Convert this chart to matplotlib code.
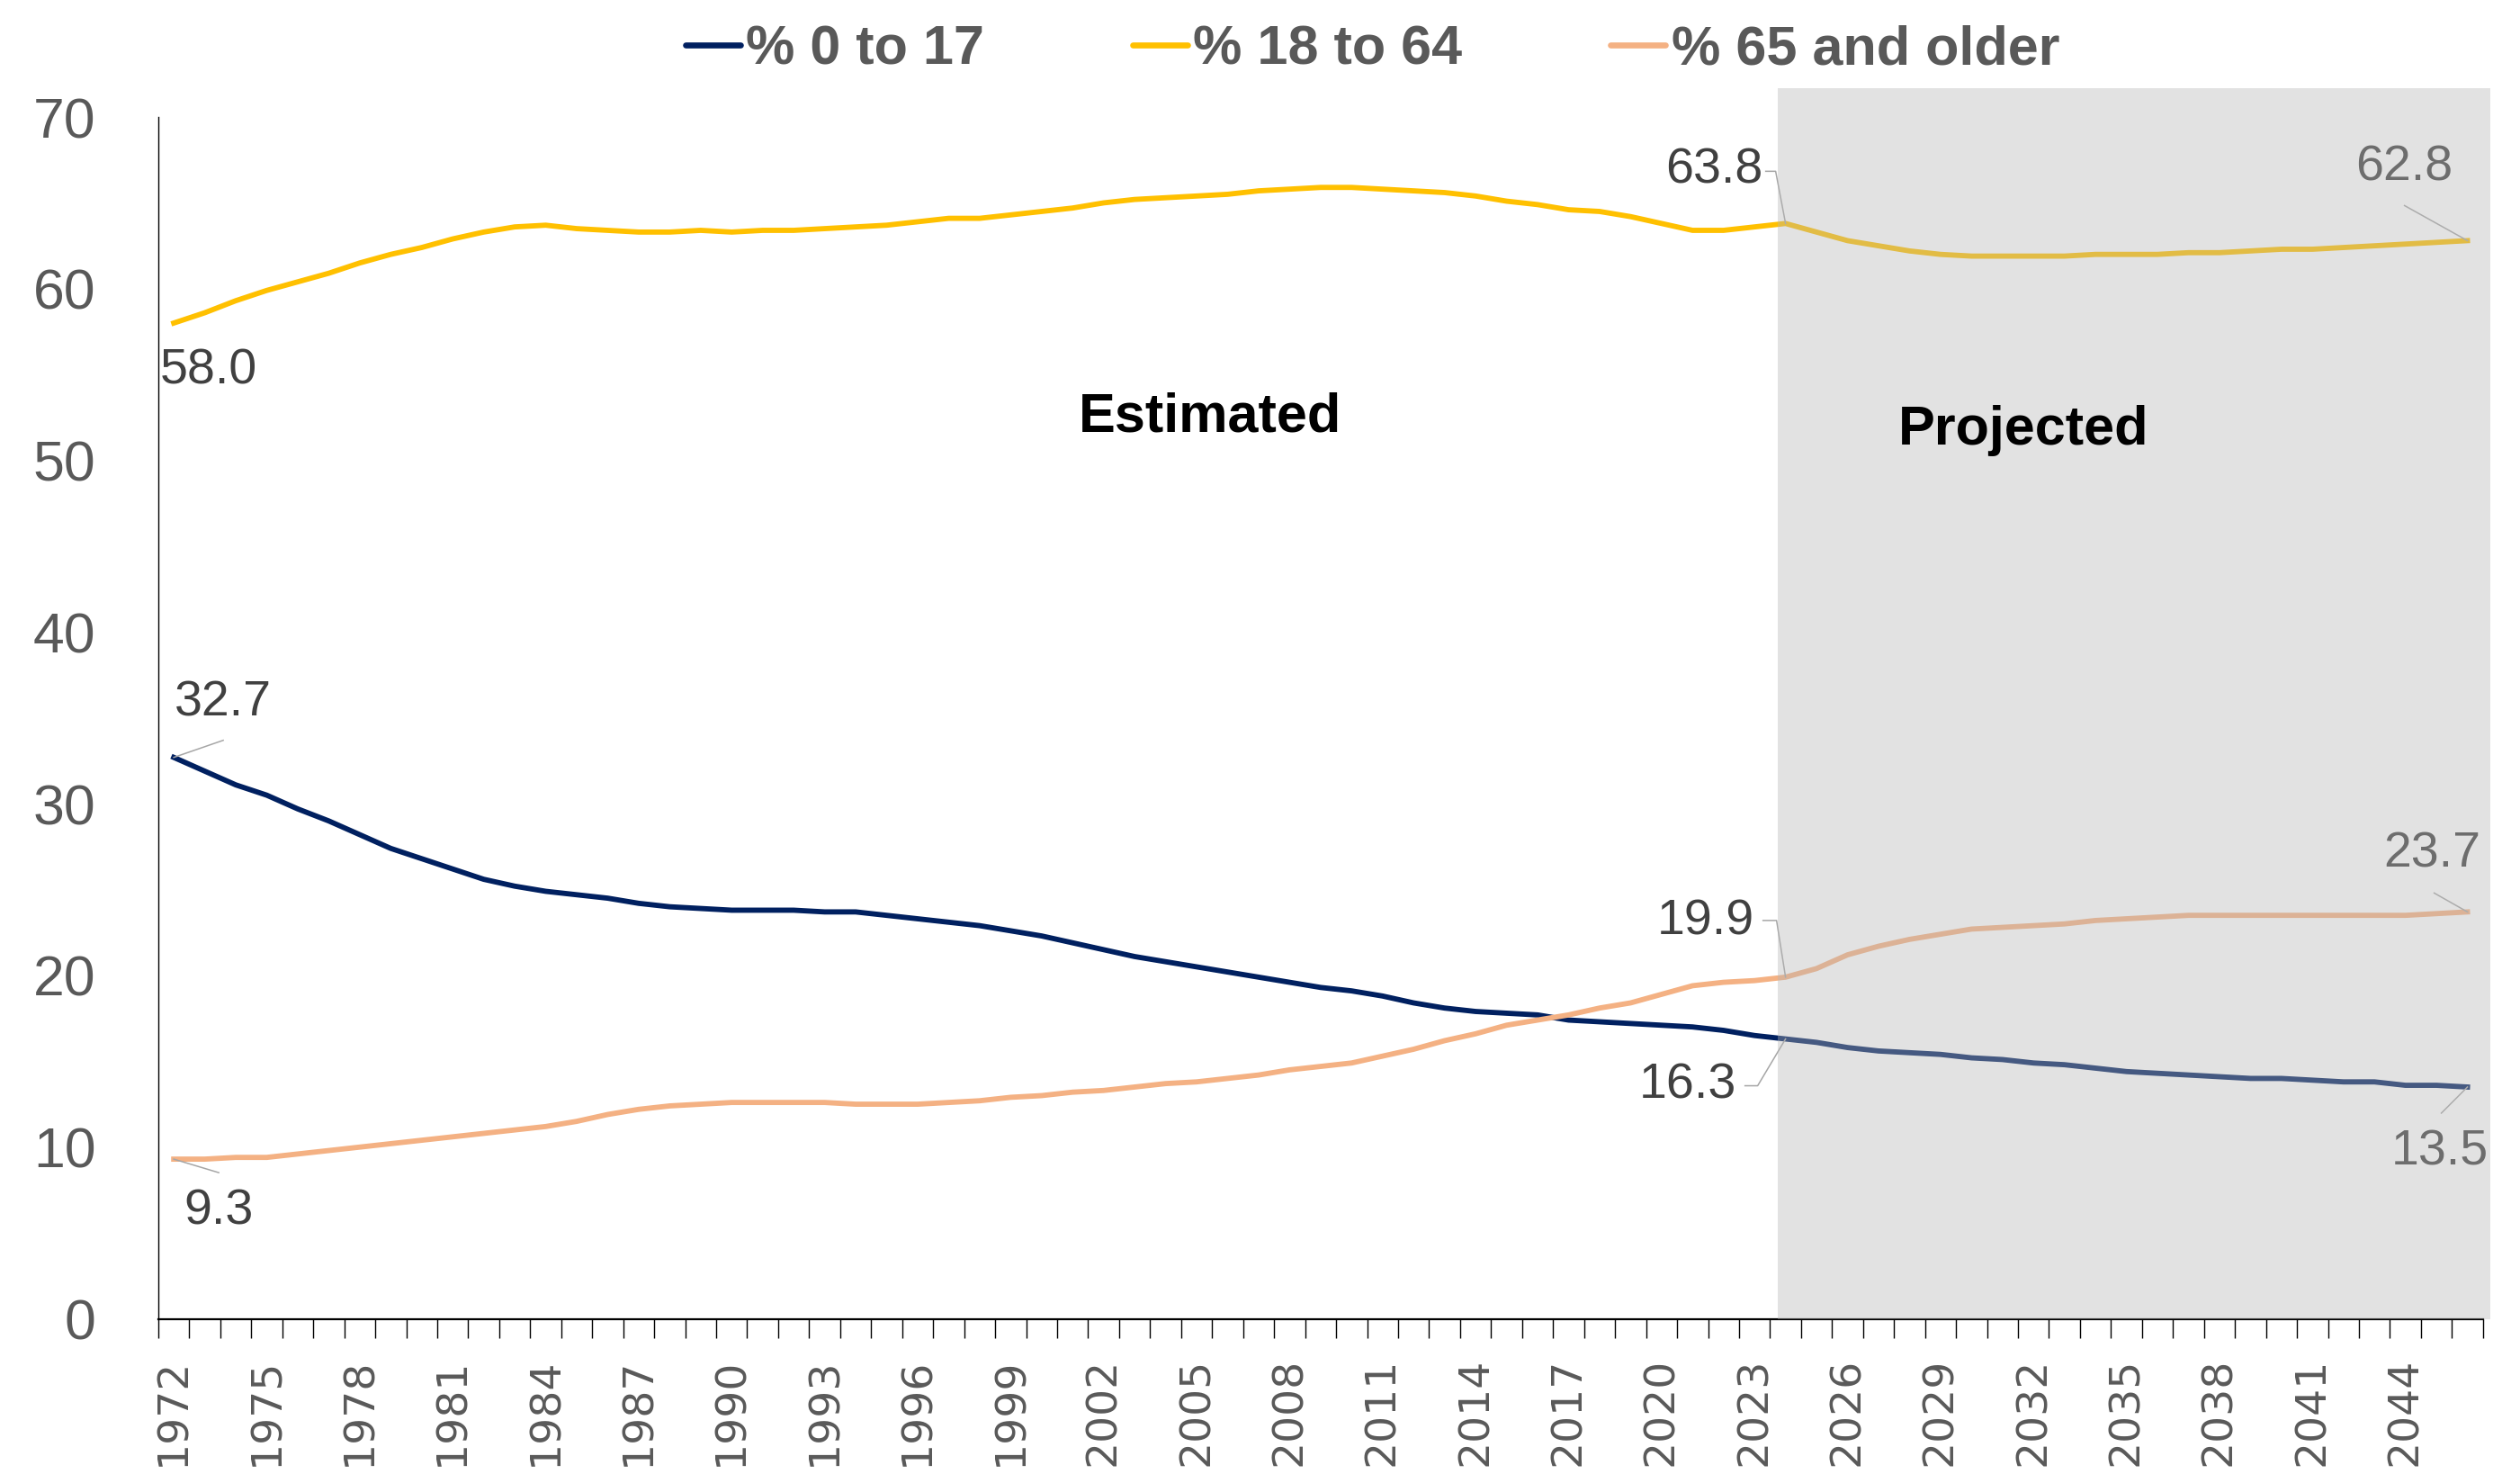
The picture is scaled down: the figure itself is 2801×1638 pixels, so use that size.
import numpy as np
import matplotlib
matplotlib.use("Agg")
import matplotlib.pyplot as plt
from matplotlib.patches import Rectangle
from matplotlib.lines import Line2D

# data
years = list(range(1972, 2047))
kids = [32.7, 31.9, 31.1, 30.5, 29.7, 29.0, 28.2, 27.4, 26.8, 26.2,
        25.6, 25.2, 24.9, 24.7, 24.5, 24.2, 24.0, 23.9, 23.8, 23.8,
        23.8, 23.7, 23.7, 23.5, 23.3, 23.1, 22.9, 22.6, 22.3, 21.9,
        21.5, 21.1, 20.8, 20.5, 20.2, 19.9, 19.6, 19.3, 19.1, 18.8,
        18.4, 18.1, 17.9, 17.8, 17.7, 17.4, 17.3, 17.2, 17.1, 17.0,
        16.8, 16.5, 16.3, 16.1, 15.8, 15.6, 15.5, 15.4, 15.2, 15.1,
        14.9, 14.8, 14.6, 14.4, 14.3, 14.2, 14.1, 14.0, 14.0, 13.9,
        13.8, 13.8, 13.6, 13.6, 13.5]
adults = [58.0, 58.6, 59.3, 59.9, 60.4, 60.9, 61.5, 62.0, 62.4, 62.9,
          63.3, 63.6, 63.7, 63.5, 63.4, 63.3, 63.3, 63.4, 63.3, 63.4,
          63.4, 63.5, 63.6, 63.7, 63.9, 64.1, 64.1, 64.3, 64.5, 64.7,
          65.0, 65.2, 65.3, 65.4, 65.5, 65.7, 65.8, 65.9, 65.9, 65.8,
          65.7, 65.6, 65.4, 65.1, 64.9, 64.6, 64.5, 64.2, 63.8, 63.4,
          63.4, 63.6, 63.8, 63.3, 62.8, 62.5, 62.2, 62.0, 61.9, 61.9,
          61.9, 61.9, 62.0, 62.0, 62.0, 62.1, 62.1, 62.2, 62.3, 62.3,
          62.4, 62.5, 62.6, 62.7, 62.8]
seniors = [9.3, 9.3, 9.4, 9.4, 9.6, 9.8, 10.0, 10.2, 10.4, 10.6,
           10.8, 11.0, 11.2, 11.5, 11.9, 12.2, 12.4, 12.5, 12.6, 12.6,
           12.6, 12.6, 12.5, 12.5, 12.5, 12.6, 12.7, 12.9, 13.0, 13.2,
           13.3, 13.5, 13.7, 13.8, 14.0, 14.2, 14.5, 14.7, 14.9, 15.3,
           15.7, 16.2, 16.6, 17.1, 17.4, 17.7, 18.1, 18.4, 18.9, 19.4,
           19.6, 19.7, 19.9, 20.4, 21.2, 21.7, 22.1, 22.4, 22.7, 22.8,
           22.9, 23.0, 23.2, 23.3, 23.4, 23.5, 23.5, 23.5, 23.5, 23.5,
           23.5, 23.5, 23.5, 23.6, 23.7]

series_names = ['% 0 to 17', '% 18 to 64', '% 65 and older']
series_colors = ['#002060', '#FFC000', '#F4B183']
proj_start = 2023.75

plt.rcParams['font.family'] = ['Liberation Sans', 'DejaVu Sans']

fig = plt.figure(figsize=(28.01, 16.38), dpi=100)
ax = fig.add_axes([0.0628, 0.1053, 0.9225, 0.8153])

x = np.arange(len(years))
data = [kids, adults, seniors]
for vals, col in zip(data, series_colors):
    ax.plot(x, vals, color=col, lw=4.2, solid_joinstyle='round', zorder=2)

ax.set_xlim(-0.5, len(years) - 0.5)
ax.set_ylim(0, 70)
ax.set_yticks(range(0, 71, 10))
ax.tick_params(axis='y', length=0, pad=50, labelsize=45, labelcolor='#595959')

ax.set_xticks(x[::3])
ax.set_xticklabels([str(y) for y in years[::3]], rotation=90,
                   fontfamily='DejaVu Sans', fontsize=34, color='#595959')
ax.set_xticks(np.arange(-0.5, len(years)), minor=True)
ax.tick_params(axis='x', which='major', length=0, pad=31)
ax.tick_params(axis='x', which='minor', length=15, width=1.0, color='black')

for s in ['top', 'right']:
    ax.spines[s].set_visible(False)
ax.spines['left'].set_linewidth(1.0)
ax.spines['bottom'].set_linewidth(1.6)

# data labels: (series, index, text offset px, leader points px)
labels = [
    (1, 0, (39, -54), []),
    (0, 0, (55, 60), [(55, 19)]),
    (2, 0, (50, -58), [(50, -15)]),
    (1, 52, (-79, 59), [(-22, 58), (-11, 58)]),
    (2, 52, (-89, 61), [(-25, 63), (-10, 63)]),
    (0, 52, (-109, -52), [(-45, -52), (-31, -52)]),
    (1, 74, (-70, 81), [(-70, 39)]),
    (2, 74, (-39, 64), [(-37, 21)]),
    (0, 74, (-31, -73), [(-29, -29)]),
]
inv = ax.transData.inverted()
for si, idx, (dx, dy), leader in labels:
    val = data[si][idx]
    ax.annotate(f'{val:.1f}', (idx, val), xytext=(dx, dy), textcoords='offset pixels',
                ha='center', va='center', fontsize=40, color='#404040', zorder=3)
    if leader:
        px, py = ax.transData.transform((idx, val))
        pts = [(px + lx, py + ly) for lx, ly in leader] + [(px, py)]
        dpts = inv.transform(pts)
        ax.plot(dpts[:, 0], dpts[:, 1], color='#a6a6a6', lw=1.1, zorder=3,
                clip_on=False)

# projected shading, drawn over the lines
x0 = proj_start - years[0]
ax.add_patch(Rectangle((x0, 0), len(years) - 0.5 - x0 + 0.25, 71.7,
                       facecolor='#b6b6b6', alpha=0.384, edgecolor='none',
                       clip_on=False, zorder=5))

ax.text(1345 / 2801, 1 - 464 / 1638, 'Estimated', transform=fig.transFigure,
        ha='center', va='center', fontsize=44, fontweight='bold', color='black', zorder=6)
ax.text(2249 / 2801, 1 - 478 / 1638, 'Projected', transform=fig.transFigure,
        ha='center', va='center', fontsize=44, fontweight='bold', color='black', zorder=6)

handles = [Line2D([], [], color=c, lw=4.8, solid_capstyle='round') for c in series_colors]
fig.legend(handles, series_names, loc='center', bbox_to_anchor=(0.5446, 0.966),
           ncol=3, frameon=False, handlelength=1.0, handletextpad=0.1,
           columnspacing=2.7, prop={'size': 44, 'weight': 'bold'}, labelcolor='#595959')

fig.savefig('out.png', dpi=100)
